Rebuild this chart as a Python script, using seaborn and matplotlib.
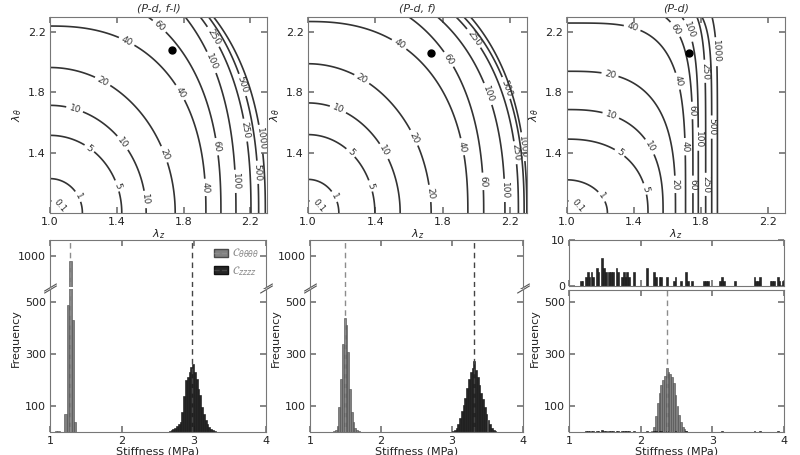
import numpy as np
import pandas as pd
import matplotlib
matplotlib.use('Agg')
import matplotlib.pyplot as plt
from matplotlib.patches import Patch
from matplotlib.lines import Line2D
import seaborn as sns

# ---- contour data (stretch where each energy contour meets the plot edges) ----
levels = [0.1, 1, 5, 10, 20, 40, 60, 100, 250, 500, 1000]
nan = np.nan

# (P-d, f-l)
p1_z_axis = [1.08, 1.194, 1.43, 1.576, 1.75, 1.934, 2.024, 2.114, 2.204, 2.25, 2.29]
p1_theta_axis = [1.08, 1.228, 1.515, 1.714, 1.965, 2.24, nan, nan, nan, nan, nan]
p1_z_top = [nan, nan, nan, nan, nan, nan, 1.588, 1.81, 1.90, 1.95, 1.98]
p1_shape = [2.0, 2.0, 2.0, 2.0, 2.0, 2.4, 2.4, 2.4, 2.4, 2.4, 2.4]
p1_point = (1.73, 2.078)

# (P-d, f)
p2_z_axis = [1.08, 1.183, 1.397, 1.547, 1.731, 1.949, 2.043, 2.169, 2.249, 2.283, 2.299]
p2_theta_axis = [1.08, 1.223, 1.52, 1.73, 1.99, 2.27, nan, nan, nan, nan, nan]
p2_z_top = [nan, nan, nan, nan, nan, nan, 1.599, 1.769, 1.879, 1.925, 1.965]
p2_shape = [2.0, 2.0, 2.0, 2.0, 2.0, 2.4, 2.4, 2.4, 2.4, 2.4, 2.4]
p2_point = (1.73, 2.063)

# (P-d)
p3_z_axis = [1.08, 1.241, 1.483, 1.573, 1.647, 1.707, 1.751, 1.783, 1.827, 1.863, 1.897]
p3_theta_axis = [1.08, 1.22, 1.49, 1.686, 1.94, 2.26, nan, nan, nan, nan, nan]
p3_z_top = [nan, nan, nan, nan, nan, nan, 1.585, 1.685, 1.775, 1.805, 1.865]
p3_shape = [2.0, 2.0, 2.3, 2.6, 3.0, 4.0, 5.0, 6.0, 7.0, 8.0, 8.0]
p3_point = (1.73, 2.063)

# heights (lambda_theta) at which each contour carries its inline labels
p1_label_at = [[1.05], [1.11], [1.43, 1.18], [1.69, 1.466, 1.09], [1.875, 1.39],
               [2.14, 1.80, 1.17], [2.24, 1.44], [2.0, 1.21], [2.17, 1.55],
               [1.85, 1.27], [1.49]]
p2_label_at = [[1.05], [1.11], [1.40, 1.18], [1.69, 1.41], [1.89, 1.50, 1.13],
               [2.12, 1.44], [2.02, 1.21], [1.79, 1.15], [2.16, 1.40], [1.83], [1.44]]
p3_label_at = [[1.05], [1.11], [1.40, 1.16], [1.65, 1.44], [1.92, 1.19],
               [2.23, 1.875, 1.44], [2.22, 1.68, 1.19], [2.21, 1.49], [1.94, 1.19],
               [1.57], [2.07]]

lam_ticks_x = [1.0, 1.4, 1.8, 2.2]
lam_ticks_y = [1.4, 1.8, 2.2]
LAM_MAX = 2.3

# ---- stiffness histograms (bin start, bin width, counts) ----
p1_tt_start, p1_tt_width = 1.068, 0.033
p1_tt_counts = [4, 2, 0, 0, 69, 487, 980, 432, 38]
p1_zz_start, p1_zz_width = 2.65, 0.025
p1_zz_counts = [3, 6, 10, 16, 24, 30, 40, 77, 140, 199, 212, 230, 250, 263,
                230, 205, 167, 141, 96, 70, 45, 30, 20, 12, 6, 2]
p1_means = [1.28, 2.977]

p2_tt_start, p2_tt_width = 1.325, 0.025
p2_tt_counts = [3, 8, 22, 96, 205, 340, 438, 410, 308, 167, 77, 38, 15, 6, 2]
p2_zz_start, p2_zz_width = 3.0, 0.025
p2_zz_counts = [3, 8, 15, 30, 55, 80, 105, 130, 168, 205, 230, 245, 272,
                238, 212, 180, 150, 128, 95, 70, 45, 30, 16, 8, 3]
p2_means = [1.49, 3.31]

p3_tt_start, p3_tt_width = 2.15, 0.025
p3_tt_counts = [5, 20, 60, 110, 150, 180, 200, 215, 248, 232, 222, 210, 190,
                142, 100, 65, 38, 20, 10, 4]
p3_zz_width = 0.025
p3_zz_left = [1.150, 1.175, 1.225, 1.250, 1.275, 1.300, 1.325, 1.375, 1.400, 1.450,
              1.475, 1.500, 1.550, 1.575, 1.600, 1.650, 1.675, 1.725, 1.750, 1.775,
              1.800, 1.825, 1.900, 2.075, 2.175, 2.200, 2.250, 2.275, 2.350, 2.450,
              2.475, 2.550, 2.625, 2.650, 2.700, 2.875, 2.900, 2.925, 3.100, 3.125,
              3.150, 3.300, 3.575, 3.600, 3.625, 3.650, 3.800, 3.825, 3.850, 3.900,
              3.925, 3.975]
p3_zz_counts = [1, 1, 2, 3, 2, 3, 2, 4, 3, 6, 4, 3, 3, 3, 3, 4, 3, 2, 3, 2,
                3, 2, 3, 4, 3, 2, 2, 2, 2, 1, 2, 1, 3, 1, 1, 1, 1, 1, 1, 2,
                1, 1, 2, 1, 1, 2, 1, 1, 1, 2, 1, 1]
p3_means = [2.37]

stiff_ticks = [1, 2, 3, 4]

GRAY = '#808080'
DARK = '#262626'
LINE = '#333333'

sns.set_theme(style='ticks')
plt.rcParams.update({
    'font.family': ['DejaVu Sans'],
    'font.size': 8,
    'axes.labelsize': 8,
    'axes.edgecolor': '#777777',
    'axes.linewidth': 0.8,
    'axes.labelcolor': '#222222',
    'xtick.direction': 'in',
    'ytick.direction': 'in',
    'xtick.top': True,
    'ytick.right': True,
    'xtick.major.size': 4,
    'ytick.major.size': 4,
    'xtick.major.pad': 3,
    'ytick.major.pad': 3,
    'xtick.color': '#777777',
    'ytick.color': '#777777',
    'xtick.labelcolor': '#222222',
    'ytick.labelcolor': '#222222',
    'xtick.labelsize': 8,
    'ytick.labelsize': 8,
})

W, H = 800, 455
fig = plt.figure(figsize=(W / 100, H / 100), dpi=100)


def box(l, t, r, b):
    return [l / W, 1 - b / H, (r - l) / W, (b - t) / H]


lam = np.linspace(1.0, LAM_MAX, 500)
ZZ, TT = np.meshgrid(lam, lam)


def contour_panel(rect, title, z_axis, theta_axis, z_top, shape, label_at, point):
    ax = fig.add_axes(rect)
    for lev, a, b, t, p, heights in zip(levels, z_axis, theta_axis, z_top, shape, label_at):
        A = a - 1
        if np.isnan(b):
            B = (LAM_MAX - 1) / (1 - ((t - 1) / A) ** p) ** (1 / p)
        else:
            B = b - 1
        F = ((ZZ - 1) / A) ** p + ((TT - 1) / B) ** p
        cs = ax.contour(ZZ, TT, F, levels=[1.0], colors=LINE, linewidths=1.2)
        pts = []
        for y in heights:
            r = min((y - 1) / B, 0.999)
            pts.append((1 + A * (1 - r ** p) ** (1 / p), y))
        ax.clabel(cs, fmt={1.0: f'{lev:g}'}, manual=pts, inline=True,
                  inline_spacing=3, fontsize=6.5, colors=LINE)
    ax.plot(*point, 'o', color='black', ms=5)
    ax.set_xlim(1.0, LAM_MAX)
    ax.set_ylim(1.0, LAM_MAX)
    ax.set_xticks(lam_ticks_x)
    ax.set_yticks(lam_ticks_y)
    ax.set_xlabel(r'$\lambda_z$', labelpad=0)
    ax.set_ylabel(r'$\lambda_\theta$', labelpad=3)
    ax.set_title(title, fontsize=8, style='italic', color='#333333', pad=4)
    return ax


contour_panel(box(50, 17, 267, 213), '(P-d, f-l)', p1_z_axis, p1_theta_axis,
              p1_z_top, p1_shape, p1_label_at, p1_point)
contour_panel(box(308, 17, 527, 213), '(P-d, f)', p2_z_axis, p2_theta_axis,
              p2_z_top, p2_shape, p2_label_at, p2_point)
contour_panel(box(567, 17, 785, 213), '(P-d)', p3_z_axis, p3_theta_axis,
              p3_z_top, p3_shape, p3_label_at, p3_point)


def draw_hist(ax, lefts, width, counts, color, edge):
    lefts = np.asarray(lefts, dtype=float)
    df = pd.DataFrame({'stiffness': lefts + width / 2, 'count': counts})
    if np.allclose(np.diff(lefts), width):
        bins = list(np.append(lefts, lefts[-1] + width))
    else:
        bins = list(np.arange(1.0, 4.0 + width / 2, width))
    sns.histplot(data=df, x='stiffness', weights='count', bins=bins, ax=ax,
                 color=color, edgecolor=edge, linewidth=0.4, alpha=1.0)
    ax.set_ylabel('')
    ax.set_xlabel('')


def regular(start, width, counts):
    return start + width * np.arange(len(counts))


def break_marks(ax_top, ax_bot):
    kw = dict(marker=[(-1, -0.6), (1, 0.6)], markersize=9, linestyle='none',
              color='#555555', mec='#555555', mew=0.8, clip_on=False)
    ax_top.plot([0, 1], [0, 0], transform=ax_top.transAxes, **kw)
    ax_bot.plot([0, 1], [1, 1], transform=ax_bot.transAxes, **kw)


def hist_panel(left, right, tt, zz, means, mean_colors, top_mode, legend=False):
    if top_mode == 'broken':
        ax_top = fig.add_axes(box(left, 240, right, 287))
        ax_bot = fig.add_axes(box(left, 289, right, 432))
    else:
        ax_top = fig.add_axes(box(left, 240, right, 286))
        ax_bot = fig.add_axes(box(left, 290, right, 432))

    if top_mode == 'broken':
        for ax in (ax_top, ax_bot):
            draw_hist(ax, *tt, GRAY, '#4a4a4a')
            draw_hist(ax, *zz, DARK, '#111111')
            for m, c in zip(means, mean_colors):
                ax.axvline(m, color=c, lw=1.0, ls=(0, (4, 3)))
        ax_top.set_ylim(880, 1062)
        ax_top.set_yticks([1000])
        ax_bot.set_ylim(0, 550)
        ax_top.spines['bottom'].set_visible(False)
        ax_bot.spines['top'].set_visible(False)
        ax_top.tick_params(axis='x', bottom=False, labelbottom=False)
        ax_bot.tick_params(axis='x', top=False)
        break_marks(ax_top, ax_bot)
    else:
        draw_hist(ax_top, *zz, DARK, '#111111')
        ax_top.set_ylim(0, 10)
        ax_top.set_yticks([0, 10])
        ax_top.tick_params(axis='x', labelbottom=False)
        draw_hist(ax_bot, *tt, GRAY, '#4a4a4a')
        draw_hist(ax_bot, *zz, DARK, '#111111')
        for m, c in zip(means, mean_colors):
            ax_bot.axvline(m, color=c, lw=1.0, ls=(0, (4, 3)))
        ax_bot.set_ylim(0, 546)

    for ax in (ax_top, ax_bot):
        ax.set_xlim(1, 4)
        ax.set_xticks(stiff_ticks)
    ax_bot.set_yticks([100, 300, 500])
    ax_bot.set_xlabel('Stiffness (MPa)', labelpad=0)
    ax_bot.set_ylabel('Frequency')
    ax_bot.yaxis.set_label_coords(-0.135, 0.66)

    if legend:
        handles = [(Patch(fc=GRAY, ec='#4a4a4a'), Line2D([], [], color='#8c8c8c', ls='--', lw=1)),
                   (Patch(fc=DARK, ec='#111111'), Line2D([], [], color='#444444', ls='--', lw=1))]
        labels = [r'$\mathcal{C}_{\theta\theta\theta\theta}$', r'$\mathcal{C}_{zzzz}$']
        ax_top.legend(handles, labels, loc='upper right', frameon=False, fontsize=8,
                      handlelength=1.2, handletextpad=0.4, labelspacing=0.3,
                      borderaxespad=0.2, labelcolor='#888888')


hist_panel(50, 266,
           (regular(p1_tt_start, p1_tt_width, p1_tt_counts), p1_tt_width, p1_tt_counts),
           (regular(p1_zz_start, p1_zz_width, p1_zz_counts), p1_zz_width, p1_zz_counts),
           p1_means, ['#8c8c8c', '#444444'], 'broken', legend=True)
hist_panel(310, 523,
           (regular(p2_tt_start, p2_tt_width, p2_tt_counts), p2_tt_width, p2_tt_counts),
           (regular(p2_zz_start, p2_zz_width, p2_zz_counts), p2_zz_width, p2_zz_counts),
           p2_means, ['#8c8c8c', '#444444'], 'broken')
hist_panel(569, 784,
           (regular(p3_tt_start, p3_tt_width, p3_tt_counts), p3_tt_width, p3_tt_counts),
           (p3_zz_left, p3_zz_width, p3_zz_counts),
           p3_means, ['#8c8c8c'], 'split')

fig.savefig('out.png', dpi=100)
